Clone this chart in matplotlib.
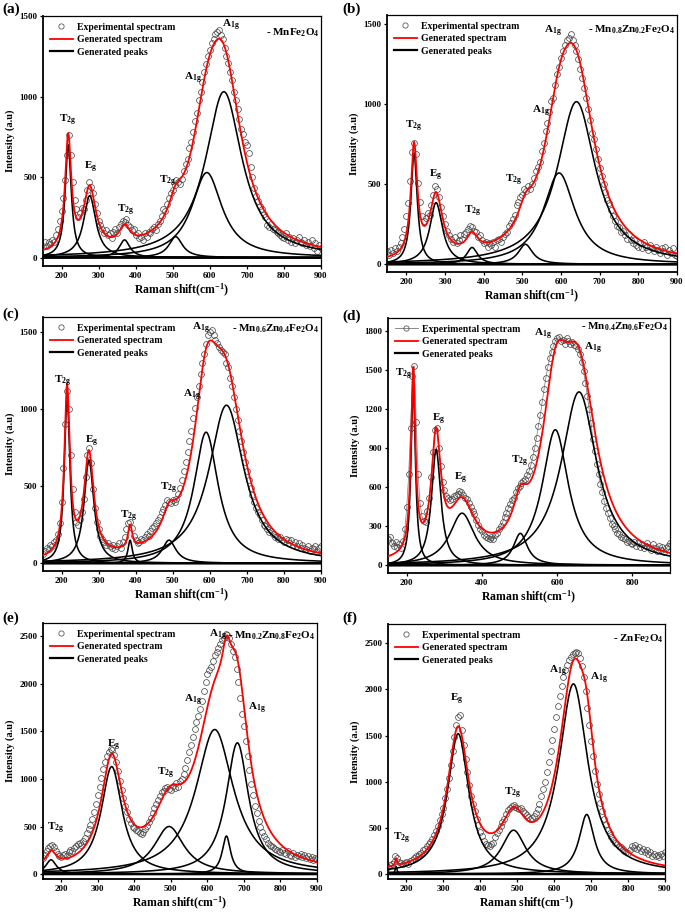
import numpy as np
import matplotlib
matplotlib.use('Agg')
import matplotlib.pyplot as plt
from matplotlib.lines import Line2D

plt.rcParams['font.family'] = ['Liberation Serif', 'DejaVu Serif']
plt.rcParams['font.weight'] = 'bold'
plt.rcParams['mathtext.fontset'] = 'custom'
plt.rcParams['mathtext.rm'] = 'Liberation Serif:bold'
plt.rcParams['mathtext.it'] = 'Liberation Serif:bold'
plt.rcParams['mathtext.bf'] = 'Liberation Serif:bold'
plt.rcParams['mathtext.default'] = 'rm'

# ---------------- data ----------------
shift = np.arange(150, 901, 5)   # Raman shift of experimental points (cm^-1)

exp_a = [75, 95, 70, 100, 85, 110, 95, 140, 180, 230,
         290, 370, 480, 640, 760, 640, 470, 360, 300, 250,
         280, 310, 300, 360, 420, 470, 440, 400, 330, 280,
         230, 200, 180, 150, 170, 140, 150, 120, 160, 180,
         150, 190, 210, 230, 220, 240, 200, 190, 170, 180,
         140, 150, 120, 130, 110, 150, 130, 160, 150, 180,
         190, 170, 210, 230, 260, 300, 290, 330, 370, 400,
         420, 450, 480, 470, 460, 490, 540, 580, 610, 680,
         720, 780, 850, 900, 980, 1030, 1090, 1150, 1200, 1250,
         1290, 1330, 1360, 1390, 1400, 1410, 1380, 1360, 1300, 1250,
         1210, 1150, 1100, 1030, 980, 920, 860, 800, 770, 720,
         700, 650, 560, 500, 430, 380, 350, 320, 300, 270,
         250, 200, 190, 210, 180, 170, 160, 150, 140, 130,
         120, 150, 110, 130, 100, 120, 90, 110, 130, 100,
         90, 110, 80, 100, 70, 110, 60, 90, 40, 80,
         60]
exp_b = [80, 60, 90, 70, 100, 80, 110, 130, 170, 220,
         300, 380, 520, 700, 760, 690, 510, 390, 300, 270,
         290, 320, 310, 370, 430, 490, 470, 420, 360, 300,
         250, 210, 180, 160, 140, 170, 130, 150, 180, 160,
         190, 200, 220, 240, 230, 210, 200, 170, 180, 150,
         130, 140, 110, 130, 120, 140, 110, 150, 160, 140,
         170, 190, 200, 240, 260, 280, 310, 370, 390, 420,
         430, 470, 460, 490, 470, 500, 540, 580, 610, 640,
         710, 760, 830, 880, 950, 1020, 1040, 1120, 1190, 1230,
         1290, 1330, 1370, 1400, 1410, 1440, 1400, 1370, 1330, 1280,
         1220, 1160, 1100, 1040, 970, 900, 820, 780, 720, 660,
         600, 550, 500, 450, 400, 380, 340, 300, 270, 240,
         230, 200, 210, 180, 160, 190, 150, 130, 150, 120,
         110, 130, 100, 140, 110, 90, 120, 100, 80, 110,
         90, 70, 100, 80, 110, 60, 90, 70, 100, 60,
         50]
exp_c = [60, 80, 100, 90, 120, 110, 140, 150, 190, 260,
         400, 620, 900, 1120, 1000, 700, 480, 330, 270, 250,
         290, 330, 420, 560, 700, 750, 650, 480, 360, 270,
         220, 180, 160, 140, 120, 130, 110, 100, 120, 90,
         110, 130, 100, 140, 170, 220, 260, 270, 230, 180,
         150, 130, 140, 160, 150, 170, 190, 180, 210, 230,
         240, 260, 280, 300, 330, 350, 380, 410, 400, 390,
         410, 400, 420, 450, 490, 540, 600, 660, 720, 790,
         860, 940, 1010, 1080, 1150, 1230, 1300, 1360, 1420, 1480,
         1500, 1510, 1480, 1450, 1430, 1400, 1380, 1370, 1360, 1300,
         1270, 1200, 1150, 1080, 1000, 930, 860, 790, 720, 660,
         600, 540, 490, 440, 400, 360, 330, 310, 280, 250,
         240, 220, 200, 210, 190, 170, 180, 160, 170, 150,
         140, 160, 150, 130, 150, 120, 140, 110, 130, 100,
         120, 100, 90, 110, 80, 100, 90, 110, 70, 100,
         110]
exp_d = [200, 220, 170, 150, 180, 140, 160, 130, 190, 280,
         450, 700, 1050, 1450, 1530, 1100, 700, 480, 380, 340,
         330, 420, 520, 680, 870, 1040, 1050, 900, 760, 640,
         580, 530, 520, 500, 510, 530, 540, 550, 570, 560,
         540, 520, 510, 480, 450, 420, 390, 350, 310, 280,
         260, 230, 220, 210, 200, 220, 200, 230, 250, 280,
         300, 330, 370, 400, 440, 470, 500, 520, 560, 590,
         610, 630, 650, 660, 690, 720, 770, 830, 900, 980,
         1070, 1150, 1250, 1350, 1440, 1520, 1590, 1640, 1680, 1720,
         1740, 1750, 1720, 1730, 1700, 1740, 1720, 1700, 1710, 1690,
         1680, 1660, 1620, 1560, 1490, 1400, 1300, 1200, 1090, 970,
         880, 780, 700, 620, 560, 490, 440, 400, 360, 320,
         300, 280, 250, 240, 220, 210, 200, 180, 190, 170,
         160, 180, 150, 170, 140, 160, 130, 150, 170, 140,
         120, 160, 130, 110, 150, 120, 140, 100, 130, 150,
         170]
exp_e = [170, 200, 240, 270, 300, 310, 280, 240, 210, 190,
         180, 200, 210, 190, 230, 250, 240, 270, 290, 320,
         330, 310, 350, 380, 430, 470, 520, 580, 650, 740,
         830, 920, 1010, 1100, 1180, 1240, 1280, 1310, 1300, 1250,
         1180, 1080, 980, 880, 800, 720, 650, 580, 540, 500,
         480, 460, 450, 430, 420, 440, 470, 510, 550, 590,
         640, 690, 740, 780, 820, 860, 870, 900, 920, 890,
         880, 930, 900, 960, 920, 980, 1000, 1050, 1120, 1200,
         1280, 1360, 1440, 1530, 1600, 1660, 1740, 1820, 1920, 2020,
         2100, 2150, 2180, 2240, 2300, 2340, 2380, 2420, 2460, 2480,
         2520, 2510, 2480, 2420, 2350, 2280, 2160, 2020, 1850, 1680,
         1560, 1400, 1240, 1090, 950, 830, 720, 640, 560, 500,
         440, 400, 370, 330, 310, 290, 280, 260, 250, 240,
         230, 250, 220, 210, 240, 200, 190, 220, 180, 200,
         190, 210, 180, 200, 170, 190, 160, 180, 150, 170,
         160]
exp_f = [80, 100, 110, 130, 190, 170, 130, 120, 110, 120,
         130, 110, 140, 150, 170, 190, 200, 220, 230, 260,
         270, 300, 320, 350, 380, 420, 470, 520, 580, 650,
         720, 820, 920, 1040, 1180, 1330, 1480, 1620, 1700, 1720,
         1560, 1400, 1250, 1100, 960, 850, 760, 680, 600, 530,
         460, 410, 360, 330, 310, 300, 320, 340, 400, 440,
         480, 520, 560, 600, 650, 690, 720, 740, 750, 730,
         720, 700, 710, 680, 660, 640, 620, 600, 610, 630,
         660, 700, 760, 840, 920, 1000, 1100, 1210, 1330, 1450,
         1570, 1700, 1820, 1930, 2040, 2130, 2210, 2270, 2320, 2350,
         2380, 2400, 2410, 2390, 2340, 2250, 2130, 1980, 1800, 1620,
         1440, 1280, 1120, 980, 870, 770, 680, 600, 540, 480,
         440, 400, 370, 340, 320, 300, 290, 270, 250, 240,
         230, 260, 300, 280, 310, 270, 290, 250, 270, 240,
         260, 220, 240, 200, 220, 190, 210, 180, 220, 200,
         240]

# fitted Lorentzian components: centre, height, FWHM
cen_a = [218, 276, 370, 508, 592, 638]
hgt_a = [700, 385, 110, 130, 528, 1030]
fw_a = [20, 40, 35, 45, 100, 120]

cen_b = [220, 277, 370, 508, 595, 640]
hgt_b = [690, 385, 105, 125, 570, 1015]
fw_b = [20, 40, 35, 45, 100, 120]

cen_c = [215, 274, 385, 490, 590, 645]
hgt_c = [1090, 670, 150, 150, 850, 1025]
fw_c = [18, 32, 14, 45, 80, 115]

cen_d = [217, 278, 347, 502, 595, 658]
hgt_d = [1400, 890, 400, 245, 1040, 1330]
fw_d = [14, 30, 80, 45, 85, 115]

cen_e = [172, 338, 495, 620, 652, 682]
hgt_e = [150, 1130, 500, 1520, 400, 1380]
fw_e = [35, 70, 100, 125, 28, 75]

cen_f = [172, 340, 490, 652, 688]
hgt_f = [80, 1520, 475, 2060, 645]
fw_f = [6, 70, 80, 95, 50]

baseline_level = 0.0

titles = ['- MnFe$_{2}$O$_{4}$',
          '- Mn$_{0.8}$Zn$_{0.2}$Fe$_{2}$O$_{4}$',
          '- Mn$_{0.6}$Zn$_{0.4}$Fe$_{2}$O$_{4}$',
          '- Mn$_{0.4}$Zn$_{0.6}$Fe$_{2}$O$_{4}$',
          '- Mn$_{0.2}$Zn$_{0.8}$Fe$_{2}$O$_{4}$',
          '- ZnFe$_{2}$O$_{4}$']
panel_tags = ['(a)', '(b)', '(c)', '(d)', '(e)', '(f)']

T2g = r'T$_{\mathrm{2g}}$'
Eg = r'E$_{\mathrm{g}}$'
A1g = r'A$_{\mathrm{1g}}$'
labels_a = [(T2g, 215, 850), (Eg, 278, 560), (T2g, 372, 290), (T2g, 485, 470),
            (A1g, 555, 1110), (A1g, 658, 1440)]
labels_b = [(T2g, 219, 858), (Eg, 276, 556), (T2g, 371, 327), (T2g, 477, 525),
            (A1g, 547, 952), (A1g, 579, 1452)]
labels_c = [(T2g, 203, 1180), (Eg, 281, 788), (T2g, 380, 302), (T2g, 490, 486),
            (A1g, 553, 1090), (A1g, 575, 1521)]
labels_d = [(T2g, 191, 1463), (Eg, 284, 1117), (Eg, 342, 670), (T2g, 501, 798),
            (A1g, 563, 1770), (A1g, 696, 1667)]
labels_e = [(T2g, 184, 483), (Eg, 343, 1357), (T2g, 486, 1060), (A1g, 561, 1829),
            (A1g, 736, 1742), (A1g, 629, 2511)]
labels_f = [(T2g, 186, 390), (Eg, 337, 1887), (T2g, 487, 877), (A1g, 611, 2194),
            (A1g, 722, 2121)]

# ---------------- layout ----------------
W, H = 685, 915
fig = plt.figure(figsize=(W / 100, H / 100), dpi=100)


def rect(l, r, t, b):
    return [l / W, 1 - b / H, (r - l) / W, (b - t) / H]


panels = [
    dict(rect=rect(43, 321, 16, 266), exp=exp_a, cen=cen_a, hgt=hgt_a, fw=fw_a,
         ylim=(-52, 1500), yt=[0, 500, 1000, 1500], xt=range(200, 901, 100),
         lab=labels_a, tag=(2, 13), title_y=1395, line=False),
    dict(rect=rect(387, 677, 15, 272), exp=exp_b, cen=cen_b, hgt=hgt_b, fw=fw_b,
         ylim=(-48, 1556), yt=[0, 500, 1000, 1500], xt=range(200, 901, 100),
         lab=labels_b, tag=(342, 13), title_y=1462, line=False),
    dict(rect=rect(43, 321, 317, 571), exp=exp_c, cen=cen_c, hgt=hgt_c, fw=fw_c,
         ylim=(-50, 1597), yt=[0, 500, 1000, 1500], xt=range(200, 901, 100),
         lab=labels_c, tag=(2, 318), title_y=1521, line=False),
    dict(rect=rect(388, 670, 318, 573), exp=exp_d, cen=cen_d, hgt=hgt_d, fw=fw_d,
         ylim=(-59, 1897), yt=[0, 300, 600, 900, 1200, 1500, 1800],
         xt=[200, 400, 600, 800], lab=labels_d, tag=(342, 320), title_y=1833,
         line=True),
    dict(rect=rect(43, 317, 623, 879), exp=exp_e, cen=cen_e, hgt=hgt_e, fw=fw_e,
         ylim=(-52, 2640), yt=[0, 500, 1000, 1500, 2000, 2500],
         xt=range(200, 901, 100), lab=labels_e, tag=(2, 622), title_y=2511,
         line=False),
    dict(rect=rect(388, 665, 624, 879), exp=exp_f, cen=cen_f, hgt=hgt_f, fw=fw_f,
         ylim=(-54, 2709), yt=[0, 500, 1000, 1500, 2000, 2500],
         xt=range(200, 901, 100), lab=labels_f, tag=(342, 622), title_y=2554,
         line=False),
]


def lorentz(x, c, h, w):
    return h / (1.0 + ((x - c) / (w / 2.0)) ** 2)


fit_x = np.linspace(150, 900, 1501)

for i, p in enumerate(panels):
    ax = fig.add_axes(p['rect'])
    comps = [lorentz(fit_x, c, h, w) for c, h, w in zip(p['cen'], p['hgt'], p['fw'])]
    total = np.sum(comps, axis=0) + baseline_level

    if p['line']:
        ax.plot(shift, p['exp'], '-', color='#777777', lw=0.5, zorder=1)
    ax.plot(shift, p['exp'], 'o', mfc='none', mec='#4d4d4d', ms=4.2, mew=0.55,
            zorder=2)
    for comp in comps:
        ax.plot(fit_x, comp + baseline_level, color='black', lw=1.15, zorder=3)
    ax.plot(fit_x, np.full_like(fit_x, baseline_level), color='black', lw=1.8,
            zorder=3)
    ax.plot(fit_x, total, color='red', lw=1.3, zorder=4)

    ax.set_xlim(150, 900)
    ax.set_ylim(*p['ylim'])
    ax.set_xticks(list(p['xt']))
    ax.set_yticks(p['yt'])
    ax.tick_params(direction='out', length=2.5, width=0.9, labelsize=6.5, pad=1.5)
    for lab in ax.get_xticklabels() + ax.get_yticklabels():
        lab.set_fontweight('bold')
    for s in ['left', 'bottom']:
        ax.spines[s].set_linewidth(1.3)
    for s in ['top', 'right']:
        ax.spines[s].set_linewidth(0.9)

    ax.set_xlabel('Raman shift(cm$^{-1}$)', fontsize=8.5, fontweight='bold',
                  labelpad=2)
    ax.set_ylabel('Intensity (a.u)', fontsize=7.5, fontweight='bold', labelpad=3)

    exp_handle = Line2D([], [], ls='-' if p['line'] else 'none', color='#777777',
                        lw=0.6, marker='o', mfc='none', mec='#4d4d4d', ms=3.8,
                        mew=0.55)
    handles = [exp_handle,
               Line2D([], [], color='red', lw=1.3),
               Line2D([], [], color='black', lw=1.6)]
    ax.legend(handles, ['Experimental spectram', 'Generated spectram',
                        'Generated peaks'],
              loc='upper left', frameon=False, handlelength=2.4,
              handletextpad=0.4, labelspacing=0.35, borderaxespad=0.3,
              numpoints=1, prop={'weight': 'bold', 'size': 7})

    for txt, x, y in p['lab']:
        ax.text(x, y, txt, fontsize=8, fontweight='bold', ha='center',
                va='center', zorder=5)
    ax.text(895, p['title_y'], titles[i], fontsize=8, fontweight='bold',
            ha='right', va='center', zorder=6)

    fig.text(p['tag'][0] / W, 1 - p['tag'][1] / H, panel_tags[i], fontsize=11,
             fontweight='bold', ha='left', va='baseline')

fig.savefig('out.png', dpi=100)
